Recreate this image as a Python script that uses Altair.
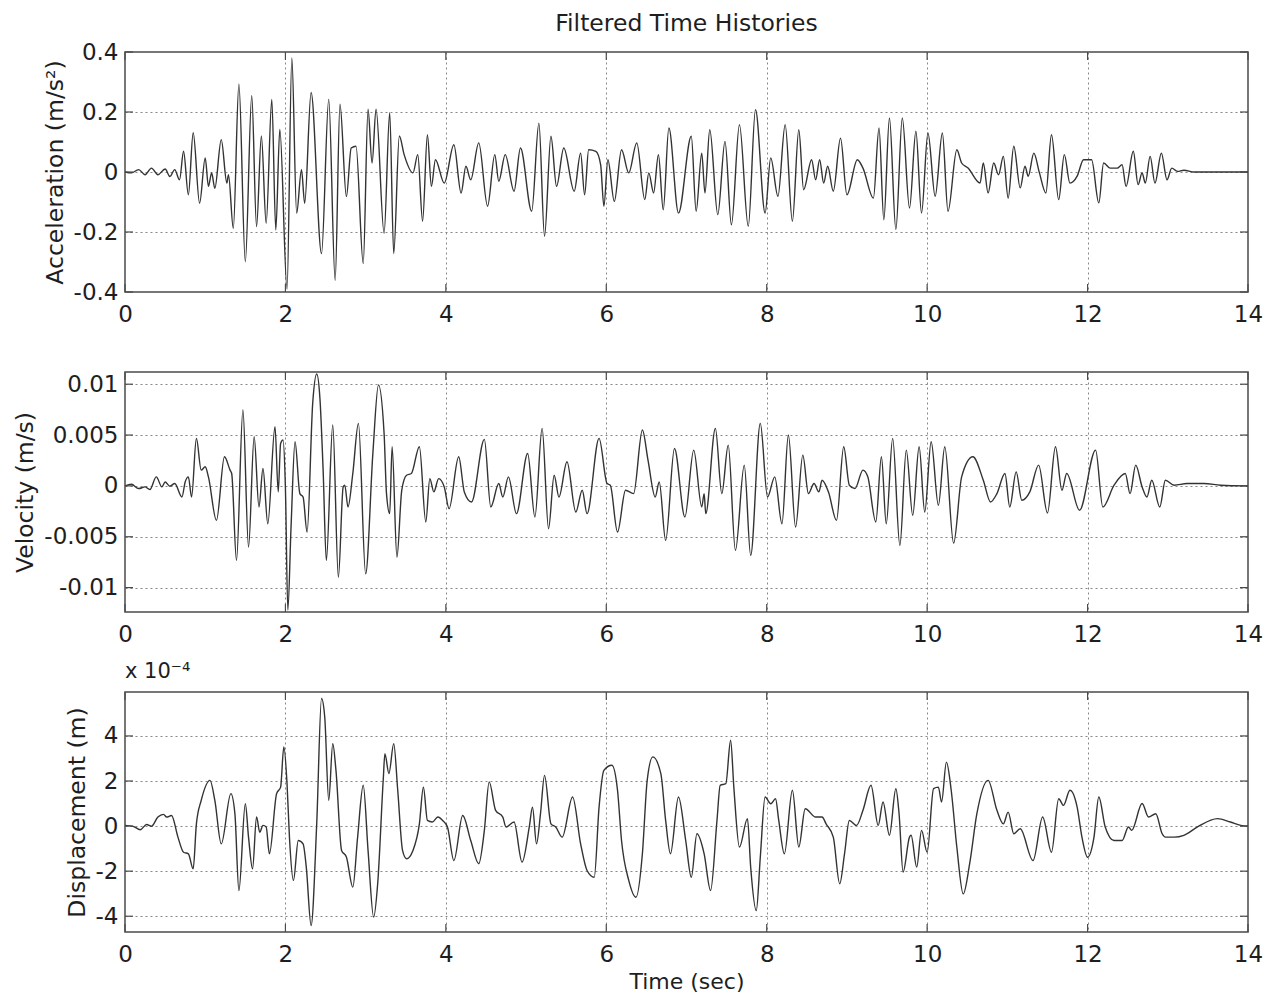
import altair as alt
import pandas as pd

# ---------------- data ----------------
X_TICKS = [0, 2, 4, 6, 8, 10, 12, 14]
ACC_TICKS = [-0.4, -0.2, 0, 0.2, 0.4]
VEL_TICKS = [-0.01, -0.005, 0, 0.005, 0.01]
DISP_TICKS = [-4, -2, 0, 2, 4]

# Acceleration (m/s^2)
ACC_T = [
    0.00, 0.08, 0.17, 0.25, 0.33, 0.41, 0.50, 0.56, 0.62, 0.68,
    0.73, 0.79, 0.85, 0.93, 1.00, 1.04, 1.08, 1.12, 1.20, 1.27,
    1.29, 1.35, 1.42, 1.50, 1.58, 1.64, 1.70, 1.76, 1.83, 1.88,
    1.93, 2.02, 2.08, 2.14, 2.20, 2.24, 2.32, 2.45, 2.54, 2.62,
    2.68, 2.76, 2.82, 2.88, 2.97, 3.03, 3.08, 3.13, 3.23, 3.30,
    3.35, 3.42, 3.48, 3.59, 3.65, 3.71, 3.77, 3.82, 3.87, 3.98,
    4.10, 4.19, 4.25, 4.31, 4.41, 4.52, 4.61, 4.66, 4.74, 4.85,
    4.93, 5.07, 5.16, 5.23, 5.31, 5.38, 5.47, 5.60, 5.68, 5.73,
    5.78, 5.87, 5.93, 5.97, 6.02, 6.10, 6.19, 6.28, 6.38, 6.48,
    6.53, 6.59, 6.65, 6.71, 6.78, 6.90, 7.06, 7.12, 7.19, 7.23,
    7.29, 7.39, 7.48, 7.56, 7.66, 7.77, 7.86, 7.98, 8.05, 8.14,
    8.23, 8.32, 8.40, 8.46, 8.56, 8.61, 8.66, 8.71, 8.76, 8.83,
    8.92, 9.00, 9.13, 9.20, 9.33, 9.40, 9.46, 9.53, 9.61, 9.69,
    9.78, 9.86, 9.93, 10.01, 10.10, 10.19, 10.26, 10.37, 10.43, 10.51,
    10.66, 10.70, 10.76, 10.83, 10.89, 10.95, 11.01, 11.08, 11.16, 11.22,
    11.26, 11.33, 11.40, 11.48, 11.55, 11.64, 11.71, 11.78, 11.87, 11.95,
    12.05, 12.14, 12.20, 12.28, 12.37, 12.43, 12.48, 12.57, 12.63, 12.68,
    12.72, 12.78, 12.84, 12.92, 12.99, 13.05, 13.12, 13.20, 13.33, 14.00,
]
ACC_V = [
    0.000, -0.003, 0.008, -0.009, 0.013, -0.009, 0.010, -0.015, 0.008, -0.026,
    0.069, -0.076, 0.131, -0.104, 0.047, -0.048, -0.003, -0.054, 0.108, -0.037,
    -0.009, -0.188, 0.293, -0.299, 0.254, -0.182, 0.120, -0.171, 0.242, -0.193,
    0.142, -0.390, 0.380, -0.137, 0.008, -0.104, 0.265, -0.272, 0.242, -0.361,
    0.226, -0.082, 0.080, 0.086, -0.305, 0.209, 0.030, 0.209, -0.204, 0.198,
    -0.272, 0.120, 0.058, -0.003, 0.058, -0.164, 0.124, -0.048, 0.041, -0.037,
    0.091, -0.070, 0.019, -0.026, 0.097, -0.114, 0.058, -0.031, 0.058, -0.064,
    0.080, -0.131, 0.163, -0.214, 0.119, -0.048, 0.080, -0.064, 0.063, -0.076,
    0.074, 0.069, 0.024, -0.114, 0.041, -0.098, 0.074, -0.003, 0.097, -0.092,
    -0.003, -0.070, 0.058, -0.126, 0.147, -0.137, 0.119, -0.131, 0.063, -0.070,
    0.141, -0.142, 0.102, -0.176, 0.158, -0.181, 0.208, -0.137, 0.047, -0.081,
    0.158, -0.164, 0.141, -0.059, 0.041, -0.026, 0.041, -0.037, 0.019, -0.064,
    0.113, -0.076, 0.041, 0.013, -0.087, 0.147, -0.159, 0.180, -0.192, 0.180,
    -0.120, 0.136, -0.137, 0.130, -0.081, 0.130, -0.131, 0.074, 0.030, 0.013,
    -0.037, 0.030, -0.070, 0.030, -0.009, 0.052, -0.087, 0.086, -0.053, 0.019,
    -0.014, 0.063, -0.003, -0.070, 0.124, -0.092, 0.058, -0.037, -0.014, 0.041,
    0.041, -0.103, 0.030, 0.013, 0.013, 0.024, -0.048, 0.069, -0.042, -0.003,
    -0.037, 0.052, -0.037, 0.063, -0.026, 0.013, 0.002, 0.006, 0.000, 0.000,
]

# Velocity, read in units of 1e-3 m/s
VEL_T = [
    0.00, 0.08, 0.17, 0.25, 0.31, 0.39, 0.46, 0.50, 0.56, 0.62,
    0.71, 0.75, 0.79, 0.83, 0.89, 0.95, 1.00, 1.04, 1.14, 1.24,
    1.31, 1.33, 1.39, 1.47, 1.54, 1.61, 1.67, 1.72, 1.78, 1.87,
    1.91, 1.94, 1.97, 2.00, 2.03, 2.07, 2.12, 2.18, 2.22, 2.27,
    2.34, 2.39, 2.43, 2.47, 2.51, 2.59, 2.66, 2.72, 2.74, 2.78,
    2.84, 2.91, 3.00, 3.09, 3.16, 3.23, 3.26, 3.30, 3.33, 3.39,
    3.45, 3.51, 3.57, 3.67, 3.75, 3.80, 3.85, 3.91, 3.98, 4.04,
    4.16, 4.23, 4.32, 4.48, 4.56, 4.66, 4.71, 4.78, 4.88, 5.02,
    5.11, 5.20, 5.28, 5.35, 5.41, 5.51, 5.62, 5.70, 5.76, 5.91,
    6.01, 6.05, 6.14, 6.24, 6.34, 6.45, 6.52, 6.61, 6.66, 6.74,
    6.85, 6.98, 7.09, 7.19, 7.22, 7.24, 7.36, 7.44, 7.52, 7.61,
    7.72, 7.80, 7.92, 8.01, 8.10, 8.19, 8.27, 8.36, 8.45, 8.52,
    8.59, 8.65, 8.69, 8.77, 8.87, 8.96, 9.03, 9.10, 9.20, 9.26,
    9.36, 9.43, 9.49, 9.57, 9.66, 9.74, 9.82, 9.90, 9.97, 10.05,
    10.14, 10.22, 10.33, 10.43, 10.57, 10.70, 10.79, 10.87, 10.97, 11.03,
    11.11, 11.18, 11.28, 11.39, 11.50, 11.60, 11.68, 11.74, 11.90, 12.10,
    12.19, 12.33, 12.47, 12.53, 12.60, 12.68, 12.74, 12.80, 12.90, 12.97,
    13.08, 13.24, 13.45, 13.66, 14.00,
]
VEL_MM = [
    0.00, 0.16, -0.26, -0.10, -0.36, 0.89, -0.10, 0.39, -0.03, 0.23,
    -1.09, 0.39, 0.89, -1.09, 4.67, 1.55, 1.88, 0.89, -3.39, 2.86,
    1.55, 1.22, -7.34, 7.47, -6.02, 4.84, -2.07, 1.71, -3.72, 5.82,
    -0.59, 4.18, 4.51, -0.26, -12.2, -4.05, 4.34, -0.76, -1.09, -4.54,
    8.13, 11.0, 8.62, 1.55, -7.34, 5.99, -8.98, -0.10, 0.07, -2.07,
    1.22, 6.15, -8.65, 3.19, 9.93, 5.16, -0.76, -2.73, 3.85, -7.01,
    -0.43, 1.05, 1.22, 3.85, -3.55, 0.72, -0.59, 0.72, -0.10, -2.24,
    2.86, -0.59, -1.58, 4.57, -2.07, 0.23, -1.09, 0.89, -2.73, 3.19,
    -3.06, 5.66, -4.21, 1.05, -1.09, 2.37, -2.57, -0.43, -2.73, 4.67,
    0.23, 0.07, -4.54, -0.43, -0.76, 5.49, 2.53, -1.09, 0.39, -5.36,
    3.68, -3.06, 3.52, -2.07, -0.76, -2.73, 5.66, -0.76, 4.01, -6.35,
    2.04, -6.84, 6.15, -1.09, 0.89, -3.72, 5.00, -4.05, 3.03, -0.76,
    0.23, -0.59, 0.56, -0.59, -3.39, 3.85, 0.07, -0.26, 1.55, 0.89,
    -3.55, 2.86, -3.72, 4.67, -5.86, 3.52, -2.89, 3.85, -2.57, 4.34,
    -1.91, 3.85, -5.63, 0.89, 2.86, 0.56, -1.58, -0.76, 1.22, -2.07,
    1.38, -1.41, -0.59, 2.04, -2.66, 3.85, -0.43, 1.22, -2.40, 3.52,
    -2.07, 0.07, 1.22, -0.76, 2.04, -0.10, -1.09, 0.56, -2.07, 0.56,
    0.07, 0.23, 0.23, 0.07, 0.00,
]

# Displacement, in units of 1e-4 m (as the axis says "x 10^-4")
DISP_T = [
    0.00, 0.10, 0.19, 0.27, 0.33, 0.41, 0.48, 0.52, 0.58, 0.66,
    0.73, 0.79, 0.85, 0.89, 0.95, 1.06, 1.12, 1.20, 1.32, 1.37,
    1.42, 1.50, 1.54, 1.59, 1.64, 1.68, 1.72, 1.76, 1.80, 1.89,
    1.94, 1.98, 2.02, 2.05, 2.10, 2.16, 2.22, 2.26, 2.32, 2.39,
    2.45, 2.49, 2.54, 2.59, 2.63, 2.70, 2.76, 2.84, 2.90, 2.97,
    3.03, 3.10, 3.15, 3.22, 3.24, 3.29, 3.35, 3.40, 3.46, 3.51,
    3.59, 3.67, 3.72, 3.77, 3.83, 3.90, 3.96, 4.02, 4.10, 4.21,
    4.31, 4.41, 4.48, 4.54, 4.62, 4.71, 4.75, 4.85, 4.95, 5.04,
    5.08, 5.13, 5.18, 5.23, 5.31, 5.37, 5.45, 5.58, 5.68, 5.76,
    5.85, 5.91, 5.97, 6.07, 6.14, 6.19, 6.28, 6.37, 6.45, 6.51,
    6.58, 6.68, 6.74, 6.80, 6.90, 6.99, 7.06, 7.13, 7.22, 7.30,
    7.38, 7.42, 7.49, 7.55, 7.59, 7.66, 7.76, 7.80, 7.87, 7.92,
    7.98, 8.05, 8.11, 8.15, 8.22, 8.32, 8.40, 8.48, 8.61, 8.69,
    8.74, 8.83, 8.91, 8.97, 9.03, 9.12, 9.20, 9.30, 9.39, 9.45,
    9.53, 9.61, 9.65, 9.70, 9.78, 9.80, 9.87, 9.93, 10.00, 10.08,
    10.14, 10.18, 10.24, 10.30, 10.37, 10.45, 10.53, 10.62, 10.76, 10.87,
    10.95, 11.01, 11.08, 11.16, 11.32, 11.44, 11.55, 11.64, 11.70, 11.78,
    11.87, 11.93, 12.00, 12.08, 12.14, 12.22, 12.33, 12.43, 12.51, 12.55,
    12.68, 12.76, 12.85, 12.93, 12.97, 13.08, 13.20, 13.37, 13.62, 13.78,
    13.91, 14.00,
]
DISP_E4 = [
    0.03, -0.01, -0.16, 0.07, -0.01, 0.40, 0.52, 0.40, 0.47, -0.49,
    -1.16, -1.23, -1.90, 0.10, 1.14, 2.03, 1.14, -0.79, 1.44, 0.55,
    -2.86, 0.99, -0.49, -1.90, 0.40, -0.27, 0.03, -0.04, -1.23, 1.44,
    1.73, 3.51, 1.88, -0.49, -2.41, -0.64, -0.79, -1.82, -4.41, 0.10,
    5.66, 4.84, 1.14, 3.66, 2.47, -1.08, -1.37, -2.71, -0.49, 1.81,
    -1.08, -4.04, -2.56, 2.10, 3.21, 2.33, 3.66, 1.59, -1.08, -1.45,
    -1.08, 0.10, 1.73, 0.25, 0.18, 0.40, 0.25, -0.04, -1.53, 0.47,
    -0.64, -1.67, -0.19, 1.96, 0.70, 0.40, -0.04, 0.18, -1.60, -0.04,
    0.84, -0.79, 0.55, 2.25, 0.10, -0.04, -0.49, 1.29, -0.79, -1.97,
    -2.27, 0.84, 2.47, 2.70, 1.59, -0.64, -2.41, -3.16, -1.23, 2.03,
    3.07, 2.33, 0.25, -1.23, 1.29, -0.64, -2.27, -0.34, -1.23, -2.86,
    0.25, 1.81, 1.88, 3.81, 1.73, -0.93, 0.33, -1.82, -3.75, -1.38,
    1.29, 0.99, 1.21, 0.25, -1.23, 1.59, -0.93, 0.77, 0.40, 0.40,
    0.10, -0.49, -2.56, -1.23, 0.25, 0.03, 0.70, 1.81, 0.03, 1.07,
    -0.41, 1.66, 0.55, -2.04, -0.49, -0.41, -1.82, -0.19, -1.16, 1.66,
    1.73, 1.07, 2.84, 1.59, -0.93, -3.01, -1.67, 0.55, 2.03, 0.70,
    0.10, 0.62, -0.34, -0.12, -1.53, 0.40, -1.16, 1.21, 0.92, 1.59,
    0.84, -0.49, -1.38, -0.49, 1.29, -0.04, -0.64, -0.64, -0.04, -0.19,
    1.00, 0.40, 0.55, -0.34, -0.49, -0.49, -0.41, -0.04, 0.33, 0.18,
    0.03, 0.00,
]

VEL_V = [v / 1000.0 for v in VEL_MM]

# ---------------- styling ----------------
FONT = "DejaVu Sans"
TXT = "#1e1e1e"
LINE = "#333333"
FRAME = "#4a4a4a"
W = 1123
H = 240
TICK_LEN = 8


def panel(t, v, y_domain, y_ticks, y_title, show_x_title=False, title=None):
    df = pd.DataFrame({"t": t, "v": v})
    xs = alt.Scale(domain=[0, 14], nice=False, zero=False)
    ys = alt.Scale(domain=y_domain, nice=False, zero=False)
    x_axis_kw = dict(values=X_TICKS, labelExpr="'' + datum.value")
    if show_x_title:
        x_axis_kw["title"] = "Time (sec)"
        x_axis_kw["titleFontSize"] = 22
    else:
        x_axis_kw["title"] = None
    x_axis = alt.Axis(**x_axis_kw)
    y_axis = alt.Axis(values=y_ticks, title=y_title,
                      labelExpr="'' + datum.value")

    line = alt.Chart(df).mark_line(
        color=LINE, strokeWidth=1.4, interpolate="monotone"
    ).encode(
        x=alt.X("t:Q", scale=xs, axis=x_axis),
        y=alt.Y("v:Q", scale=ys, axis=y_axis),
    )

    xt = pd.DataFrame({"t": X_TICKS})
    yt = pd.DataFrame({"v": y_ticks})
    tick_style = dict(color=FRAME, strokeWidth=1.2)
    bottom = alt.Chart(xt).mark_rule(**tick_style).encode(
        x=alt.X("t:Q", scale=xs, axis=x_axis),
        y=alt.value(H), y2=alt.value(H - TICK_LEN))
    top = alt.Chart(xt).mark_rule(**tick_style).encode(
        x=alt.X("t:Q", scale=xs, axis=x_axis),
        y=alt.value(0), y2=alt.value(TICK_LEN))
    left = alt.Chart(yt).mark_rule(**tick_style).encode(
        y=alt.Y("v:Q", scale=ys, axis=y_axis),
        x=alt.value(0), x2=alt.value(TICK_LEN))
    right = alt.Chart(yt).mark_rule(**tick_style).encode(
        y=alt.Y("v:Q", scale=ys, axis=y_axis),
        x=alt.value(W), x2=alt.value(W - TICK_LEN))

    props = dict(width=W, height=H)
    if title is not None:
        props["title"] = title
    return alt.layer(line, bottom, top, left, right).properties(**props)


p1 = panel(
    ACC_T, ACC_V, [-0.4, 0.4], ACC_TICKS, "Acceleration (m/s²)",
    title=alt.TitleParams(
        "Filtered Time Histories", font=FONT, fontSize=23.5,
        fontWeight="normal", color=TXT, anchor="middle", frame="group",
        offset=6),
)
p2 = panel(VEL_T, VEL_V, [-0.0124, 0.0112], VEL_TICKS, "Velocity (m/s)")
p3 = panel(
    DISP_T, DISP_E4, [-4.7, 5.95], DISP_TICKS, "Displacement (m)",
    show_x_title=True,
    title=alt.TitleParams(
        "x 10⁻⁴", font=FONT, fontSize=21, fontWeight="normal",
        color=TXT, anchor="start", frame="group", offset=9),
)

chart = alt.vconcat(p1, p2, p3, spacing=80, bounds="flush").configure_view(
    stroke=FRAME, strokeWidth=1.5
).configure_axis(
    labelFont=FONT, labelFontSize=23, labelColor=TXT,
    titleFont=FONT, titleFontSize=23.5, titleFontWeight="normal",
    titleColor=TXT, grid=True, gridColor="#7a7a7a", gridDash=[2, 3],
    gridWidth=1, gridOpacity=0.9, ticks=False, domain=False,
    labelFlush=False,
).configure_axisX(
    labelPadding=11, titlePadding=5,
).configure_axisY(
    labelPadding=7, titlePadding=6,
).properties(
    padding={"left": 5, "top": 2, "right": 0, "bottom": -1},
    background="white",
)

chart.save("out.html", embed_options={"renderer": "svg", "actions": False})
